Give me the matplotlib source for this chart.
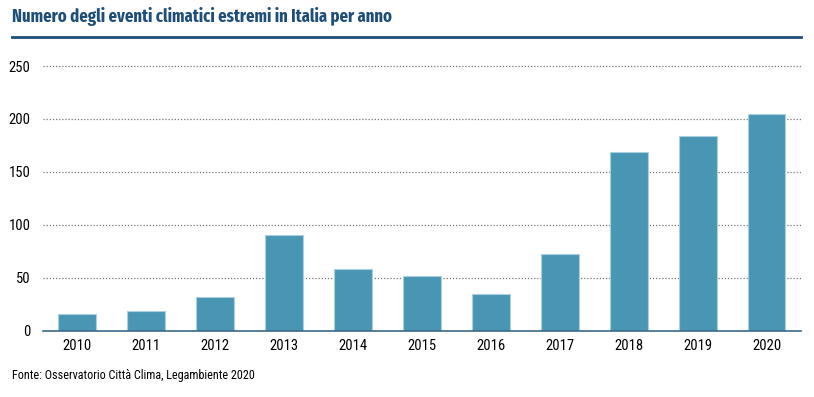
import matplotlib.pyplot as plt
from matplotlib.lines import Line2D

years = ['2010', '2011', '2012', '2013', '2014', '2015',
         '2016', '2017', '2018', '2019', '2020']
events = [16, 19, 32, 90, 58, 52, 35, 72, 169, 184, 205]
yticks = [0, 50, 100, 150, 200, 250]

narrow = ['Roboto Condensed', 'DejaVu Sans']
heading = ['Fira Sans Extra Condensed', 'Barlow Condensed', 'DejaVu Sans']
bar_color = '#4896b4'
title_color = '#1f4e79'

fig = plt.figure(figsize=(8.14, 3.97), dpi=100)
ax = fig.add_axes([0.0528, 0.167, 0.9312, 0.672])

x = range(len(years))
ax.bar(x, events, width=0.55, color=bar_color, edgecolor='#a9cfe0',
       linewidth=0.8, zorder=3)

ax.set_xlim(-0.5, 10.5)
ax.set_ylim(0, 252)
ax.set_yticks(yticks)
ax.set_xticks(list(x))
ax.set_xticklabels(years, fontfamily=narrow, fontsize=10.5)
ax.set_yticklabels([str(t) for t in yticks], fontfamily=narrow, fontsize=10.5)
ax.tick_params(axis='both', length=0, colors='black')
ax.tick_params(axis='y', pad=9)
ax.tick_params(axis='x', pad=6)

ax.yaxis.grid(True, linestyle=(0, (1, 1.5)), color='#777777', linewidth=0.9, zorder=0)
for s in ['top', 'right', 'left']:
    ax.spines[s].set_visible(False)
ax.spines['bottom'].set_color('#3d6a88')
ax.spines['bottom'].set_linewidth(1.2)
ax.spines['bottom'].set_zorder(4)

# title and rule
fig.text(12 / 814, 1 - 17 / 397, 'Numero degli eventi climatici estremi in Italia per anno',
         fontfamily=heading, fontweight='bold', fontsize=13, color=title_color,
         va='center', ha='left')
fig.add_artist(Line2D([12 / 814, 801 / 814], [1 - 37 / 397, 1 - 37 / 397],
                      color=title_color, linewidth=2))

fig.text(12 / 814, 1 - 376 / 397, 'Fonte: Osservatorio Città Clima, Legambiente 2020',
         fontfamily=narrow, fontsize=8.7, color='black', va='center', ha='left')

fig.savefig('out.png', dpi=100)
